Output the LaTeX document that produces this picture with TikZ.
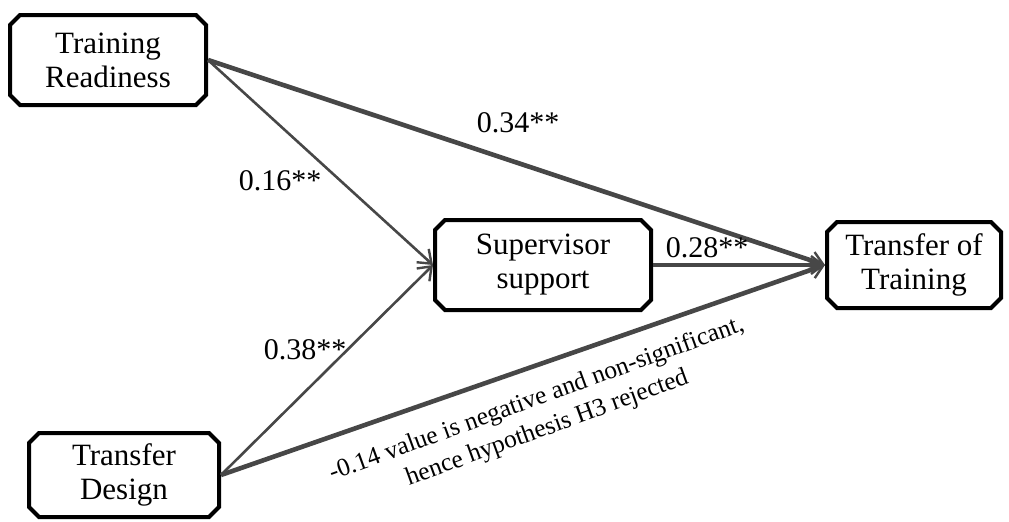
\documentclass[tikz,border=0pt]{standalone}
\usepackage{fontspec}
\setmainfont{Liberation Serif}
\usetikzlibrary{shapes.misc,arrows.meta}
\tikzset{
  var/.style={draw=black,line width=2pt,chamfered rectangle,chamfered rectangle xsep=2.5pt,
    chamfered rectangle ysep=2.5pt,align=center,inner sep=0pt,
    font=\fontsize{15.5}{17}\selectfont},
  path/.style={draw=black!72,-{Straight Barb[length=6pt,width=9pt,line width=1.2pt]}},
  thin/.style={line width=1.3pt},
  thick/.style={line width=2.3pt},
  coef/.style={font=\fontsize{15}{17}\selectfont}
}
\begin{document}
\begin{tikzpicture}[x=0.5pt,y=-0.5pt]
      \useasboundingbox (0,0) rectangle (1009,521);
      \node[var,minimum width=98pt,minimum height=45pt] (tr) at (108,60) {Training\\Readiness};
      \node[var,minimum width=108pt,minimum height=45pt] (ss) at (543,265) {Supervisor\\support};
      \node[var,minimum width=87pt,minimum height=43pt] (tt) at (914,265) {Transfer of\\Training};
      \node[var,minimum width=95pt,minimum height=42pt] (td) at (124,475) {Transfer\\Design};
      \begin{scope}[path]
        \draw[thick] (tr.east) to (tt.west);
        \draw[thin] (tr.east) to (ss.west);
        \draw[thick] (ss.east) to (tt.west);
        \draw[thin] (td.east) to (ss.west);
        \draw[thick] (td.east) to (tt.west);
      \end{scope}
      \node[coef] (c1) at (518,123) {0.34**};
      \node[coef] (c2) at (280,181) {0.16**};
      \node[coef] (c3) at (707,248) {0.28**};
      \node[coef] (c4) at (305,350) {0.38**};
      \node[rotate=20,align=center,font=\fontsize{12.7}{15.5}\selectfont] (note) at (542,414)
        {-0.14 value is negative and non-significant,\\hence hypothesis H3 rejected};
    \end{tikzpicture}
\end{document}
